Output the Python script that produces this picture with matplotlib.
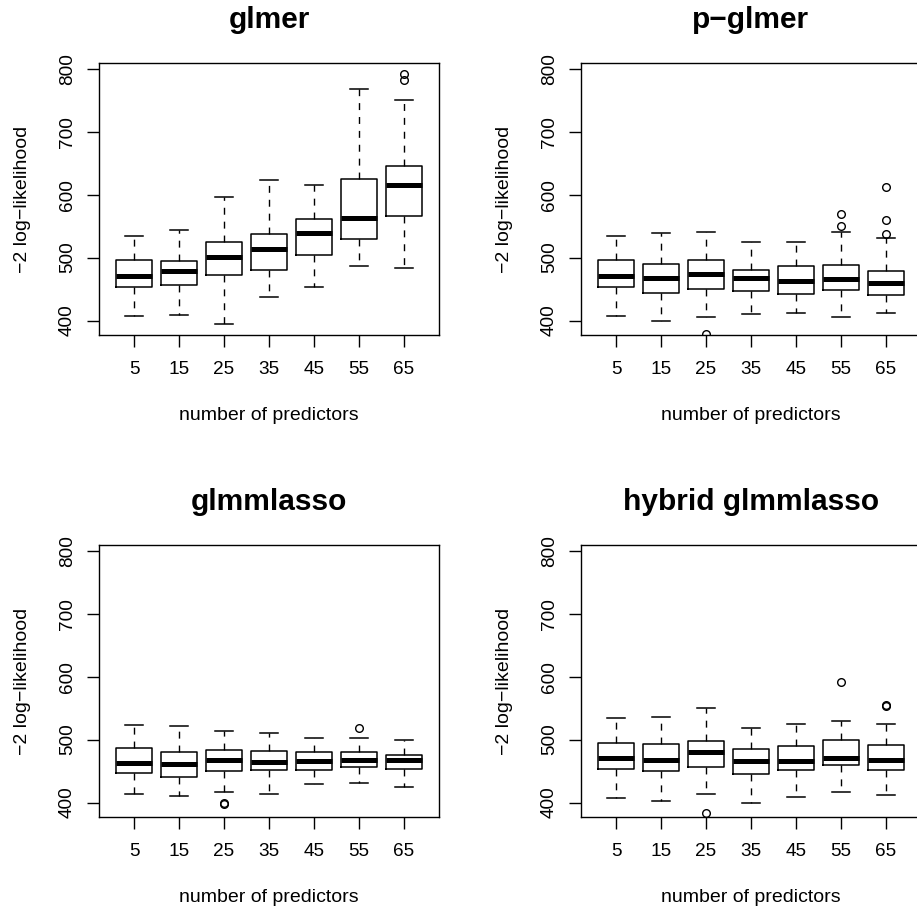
import matplotlib
matplotlib.use('Agg')
import matplotlib.pyplot as plt

plt.rcParams['font.family'] = ['Liberation Sans', 'DejaVu Sans']

predictors = ['5', '15', '25', '35', '45', '55', '65']
titles = ['glmer', 'p\u2212glmer', 'glmmlasso', 'hybrid glmmlasso']

# glmer
glmer_lo = [407, 408, 394, 438, 454, 486, 483]
glmer_q1 = [454, 457, 472, 480, 504, 529, 566]
glmer_med = [470, 478, 501, 513, 539, 563, 615]
glmer_q3 = [496, 495, 524, 538, 562, 624, 645]
glmer_hi = [535, 544, 596, 623, 615, 767, 751]
glmer_out = [[], [], [], [], [], [], [782, 791]]

# p-glmer
pglmer_lo = [407, 400, 405, 410, 412, 406, 412]
pglmer_q1 = [454, 443, 450, 447, 442, 449, 440]
pglmer_med = [470, 467, 474, 467, 462, 466, 459]
pglmer_q3 = [496, 489, 496, 481, 486, 488, 478]
pglmer_hi = [535, 539, 541, 524, 524, 541, 531]
pglmer_out = [[], [], [378], [], [], [550, 569], [538, 560, 612]]

# glmmlasso
lasso_lo = [413, 411, 417, 413, 430, 431, 424]
lasso_q1 = [447, 441, 450, 451, 451, 456, 454]
lasso_med = [462, 461, 468, 464, 466, 468, 467]
lasso_q3 = [487, 481, 483, 482, 480, 481, 475]
lasso_hi = [523, 521, 513, 510, 502, 503, 500]
lasso_out = [[], [], [398, 400], [], [], [518], []]

# hybrid glmmlasso
hyb_lo = [407, 403, 414, 400, 409, 417, 412]
hyb_q1 = [453, 450, 456, 446, 451, 459, 451]
hyb_med = [470, 468, 481, 466, 466, 471, 467]
hyb_q3 = [495, 493, 497, 485, 489, 499, 491]
hyb_hi = [534, 536, 550, 519, 524, 530, 525]
hyb_out = [[], [], [383], [], [], [591], [553, 555]]

panels = [
    (glmer_lo, glmer_q1, glmer_med, glmer_q3, glmer_hi, glmer_out),
    (pglmer_lo, pglmer_q1, pglmer_med, pglmer_q3, pglmer_hi, pglmer_out),
    (lasso_lo, lasso_q1, lasso_med, lasso_q3, lasso_hi, lasso_out),
    (hyb_lo, hyb_q1, hyb_med, hyb_q3, hyb_hi, hyb_out),
]

W, H = 917, 911
fig = plt.figure(figsize=(W / 100, H / 100), dpi=100)

# pixel boxes of the four panels (left, top)
corners = [(99, 63), (581, 63), (99, 545), (581, 545)]
aw, ah = 340, 272

for (left, top), title, (lo, q1, med, q3, hi, out) in zip(corners, titles, panels):
    ax = fig.add_axes([left / W, (H - top - ah) / H, aw / W, ah / H])
    stats = []
    for i in range(len(predictors)):
        stats.append(dict(whislo=lo[i], q1=q1[i], med=med[i], q3=q3[i],
                          whishi=hi[i], fliers=out[i]))
    ax.bxp(stats, positions=range(1, 8), widths=0.8, capwidths=0.4,
           showfliers=True,
           boxprops=dict(color='black', linewidth=1.1),
           medianprops=dict(color='black', linewidth=3.6, solid_capstyle='butt'),
           whiskerprops=dict(color='black', linewidth=1.0, linestyle=(0, (5, 5))),
           capprops=dict(color='black', linewidth=1.1),
           flierprops=dict(marker='o', markerfacecolor='none', markeredgecolor='black',
                           markersize=5.5, markeredgewidth=1.0))
    ax.set_xlim(0.22, 7.78)
    ax.set_ylim(377, 809)
    ax.set_xticks(range(1, 8))
    ax.set_xticklabels(predictors)
    ax.set_yticks([400, 500, 600, 700, 800])
    for s in ax.spines.values():
        s.set_linewidth(1.0)
    ax.tick_params(axis='both', length=8.6, width=1.0, labelsize=13.7)
    ax.tick_params(axis='x', pad=10)
    ax.tick_params(axis='y', pad=8, labelrotation=90)
    for lab in ax.get_yticklabels():
        lab.set_va('center')
    ax.set_title(title, fontsize=21.5, fontweight='bold', pad=25)
    ax.set_xlabel('number of predictors', fontsize=14)
    ax.xaxis.set_label_coords(0.5, -0.265)
    ax.set_ylabel('\u22122 log\u2212likelihood', fontsize=14)
    ax.yaxis.set_label_coords(-0.2, 0.5)

fig.savefig('out.png', dpi=100)
